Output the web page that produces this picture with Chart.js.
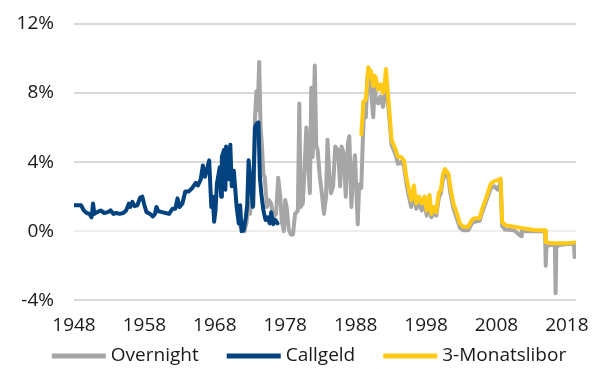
<!DOCTYPE html>
<html>
<head>
<meta charset="utf-8">
<script src="https://cdn.jsdelivr.net/npm/chart.js@4/dist/chart.umd.min.js"></script>
<style>
  html, body { margin: 0; padding: 0; background: #ffffff; }
  canvas { display: block; }
</style>
</head>
<body>
<canvas id="chart" width="603" height="369"></canvas>
<script>
// Swiss money-market rates in percent, dates as decimal years

const tickYears = [1948, 1958, 1968, 1978, 1988, 1998, 2008, 2018];
const tickRates = [-4, 0, 4, 8, 12];

const seriesNames = ['Overnight', 'Callgeld', '3-Monatslibor'];
const seriesColors = ['#a6a6a6', '#01427f', '#ffc916'];

const callgeldYears = [
  1948.0, 1948.5, 1949.0, 1949.4, 1949.8, 1950.2, 1950.5, 1950.7, 1950.9, 1951.3,
  1951.8, 1952.3, 1952.8, 1953.2, 1953.6, 1954.0, 1954.5, 1955.0, 1955.4, 1955.8,
  1956.0, 1956.3, 1956.6, 1957.0, 1957.4, 1957.7, 1958.0, 1958.3, 1958.8, 1959.2,
  1959.5, 1959.7, 1960.0, 1960.5, 1961.0, 1961.5, 1962.0, 1962.4, 1962.7, 1963.0,
  1963.4, 1963.8, 1964.3, 1964.8, 1965.3, 1965.6, 1966.0, 1966.3, 1966.6, 1966.9,
  1967.2, 1967.5, 1967.7, 1967.9, 1968.1, 1968.3, 1968.7, 1968.9, 1969.0, 1969.3,
  1969.5, 1969.6, 1969.9, 1970.2, 1970.4, 1970.7, 1971.1, 1971.4, 1971.6, 1971.8,
  1972.1, 1972.4, 1972.6, 1972.8, 1973.1, 1973.4, 1973.7, 1973.9, 1974.2, 1974.4,
  1974.6, 1974.9, 1975.2, 1975.5, 1975.8, 1976.0, 1976.3, 1976.6, 1976.9
];
const callgeldRates = [
  1.5, 1.5, 1.5, 1.2, 1.05, 1.0, 0.8, 1.6, 1.0, 1.1,
  1.2, 1.05, 1.1, 1.2, 1.0, 1.05, 1.0, 1.05, 1.2, 1.6,
  1.4, 1.7, 1.45, 1.5, 1.95, 2.0, 1.5, 1.1, 1.0, 0.85,
  1.0, 1.4, 1.15, 1.1, 1.05, 1.0, 1.3, 1.3, 1.9, 1.4,
  1.6, 2.3, 2.3, 2.5, 2.8, 2.65, 3.0, 3.8, 3.15, 3.6,
  4.1, 1.4, 2.0, 0.55, 1.2, 2.75, 3.7, 2.0, 4.3, 4.7,
  2.4, 4.9, 3.0, 5.0, 2.6, 3.5, 1.4, 0.45, 1.5, 0.0,
  0.05, 0.8, 1.5, 4.1, 2.75, 1.4, 6.0, 6.2, 6.3, 3.15,
  2.2, 1.2, 0.65, 0.8, 0.45, 1.1, 0.4, 0.65, 0.45
];

const overnightYears = [
  1971.6, 1971.9, 1972.2, 1972.5, 1972.8, 1973.0, 1973.3, 1973.5, 1973.7, 1973.9,
  1974.1, 1974.3, 1974.5, 1974.7, 1974.9, 1975.1, 1975.4, 1975.7, 1976.0, 1976.3,
  1976.7, 1977.0, 1977.3, 1977.5, 1977.8, 1978.0, 1978.2, 1978.5, 1978.8, 1979.1,
  1979.4, 1979.8, 1980.0, 1980.2, 1980.5, 1980.7, 1981.0, 1981.2, 1981.5, 1981.7,
  1981.9, 1982.2, 1982.4, 1982.6, 1982.9, 1983.2, 1983.5, 1983.8, 1984.0, 1984.3,
  1984.5, 1984.8, 1985.1, 1985.5, 1985.8, 1986.0, 1986.3, 1986.6, 1986.9, 1987.1,
  1987.4, 1987.6, 1987.9, 1988.3, 1988.5, 1988.8, 1989.0, 1989.2, 1989.45, 1989.7,
  1990.0, 1990.2, 1990.5, 1990.7, 1990.9, 1991.2, 1991.5, 1991.9, 1992.3, 1992.6,
  1992.9, 1993.1, 1993.7, 1994.0, 1994.4, 1994.86, 1995.2, 1995.56, 1995.9, 1996.27,
  1996.6, 1997.0, 1997.4, 1997.8, 1998.1, 1998.5, 1998.75, 1999.1, 1999.45, 1999.8,
  2000.1, 2000.4, 2000.7, 2001.2, 2001.5, 2001.9, 2002.4, 2002.8, 2003.3, 2004.0,
  2004.5, 2004.9, 2005.6, 2005.9, 2006.6, 2007.2, 2007.7, 2008.2, 2008.6, 2008.8,
  2009.2, 2010.5, 2011.5, 2011.6, 2012.0, 2013.5, 2014.9, 2015.0, 2015.1, 2015.5,
  2016.3, 2016.4, 2016.5, 2017.0, 2018.0, 2019.0, 2019.1, 2019.3
];
const overnightRates = [
  0.3, 0.1, 0.0, 0.5, 1.5, 1.0, 2.4, 1.5, 6.5, 8.1,
  7.0, 9.8, 6.0, 4.9, 3.3, 3.1, 1.4, 1.8, 1.6, 0.8,
  1.0, 3.1, 2.0, 0.6, 0.0, 1.8, 1.4, 0.1, -0.2, -0.2,
  1.0, 1.2, 7.4, 1.4, 1.6, 3.3, 6.0, 4.1, 2.2, 8.3,
  4.3, 9.6, 5.0, 4.7, 3.2, 2.2, 1.0, 2.0, 5.3, 3.0,
  2.2, 2.6, 4.9, 4.7, 2.6, 4.9, 4.5, 2.0, 5.1, 5.5,
  1.4, 3.1, 4.4, 0.4, 2.7, 2.5, 5.0, 7.2, 6.6, 9.0,
  8.8, 8.0, 6.6, 8.4, 7.6, 7.4, 7.8, 7.2, 8.6, 7.4,
  6.0, 5.0, 4.4, 3.9, 4.0, 3.8, 2.8, 2.0, 1.4, 2.3,
  1.3, 1.6, 1.2, 1.7, 0.9, 1.8, 0.8, 1.1, 0.9, 1.9,
  2.2, 3.0, 3.4, 3.0, 2.1, 1.3, 0.7, 0.2, 0.05, 0.05,
  0.45, 0.55, 0.6, 1.0, 1.8, 2.5, 2.6, 2.4, 2.8, 0.3,
  0.1, 0.05, -0.3, 0.05, 0.0, 0.0, 0.0, -2.0, -0.9, -0.8,
  -0.8, -3.6, -0.9, -0.8, -0.75, -0.75, -1.5, -0.7
];

const liborYears = [
  1988.8, 1989.0, 1989.1, 1989.45, 1989.8, 1990.0, 1990.15, 1990.5, 1990.7, 1990.86,
  1991.2, 1991.56, 1991.9, 1992.1, 1992.3, 1992.6, 1992.9, 1993.1, 1993.7, 1994.0,
  1994.4, 1994.86, 1995.2, 1995.56, 1995.9, 1996.27, 1996.6, 1997.0, 1997.4, 1997.8,
  1998.1, 1998.5, 1998.75, 1999.1, 1999.45, 1999.8, 2000.1, 2000.4, 2000.7, 2001.2,
  2001.5, 2001.9, 2002.4, 2002.8, 2003.3, 2004.0, 2004.5, 2004.9, 2005.6, 2005.9,
  2006.6, 2007.2, 2007.7, 2008.2, 2008.6, 2008.8, 2009.2, 2010.5, 2012.0, 2013.5,
  2014.9, 2015.0, 2016.0, 2017.0, 2018.0, 2019.3
];
const liborRates = [
  5.6, 6.8, 7.5, 7.6, 9.5, 9.2, 9.3, 8.4, 9.0, 8.9,
  8.2, 8.5, 8.0, 8.4, 9.4, 7.9, 6.4, 5.3, 4.7, 4.3,
  4.3, 4.1, 3.15, 2.4, 1.8, 2.65, 1.6, 2.0, 1.6, 2.0,
  1.2, 2.1, 1.0, 1.4, 1.1, 2.2, 2.4, 3.3, 3.6, 3.3,
  2.4, 1.6, 1.0, 0.45, 0.25, 0.25, 0.65, 0.75, 0.75, 1.2,
  2.0, 2.75, 2.9, 2.95, 3.05, 0.55, 0.35, 0.25, 0.15, 0.05,
  0.05, -0.65, -0.7, -0.7, -0.7, -0.65
];

const toPoints = (xs, ys) => xs.map((x, i) => ({ x: x, y: ys[i] }));

const FONT = '"Open Sans", "Noto Sans", sans-serif';
const TEXT_COLOR = '#1a1a1a';
const FONT_SIZE = 19;

function lineSet(idx, xs, ys, order) {
  return {
    label: seriesNames[idx],
    data: toPoints(xs, ys),
    borderColor: seriesColors[idx],
    backgroundColor: seriesColors[idx],
    borderWidth: 4,
    pointRadius: 0,
    tension: 0,
    borderJoinStyle: 'round',
    borderCapStyle: 'round',
    order: order
  };
}

// Legend row under the axis: a short thick line followed by the series name
const bottomLegend = {
  id: 'bottomLegend',
  afterDraw(chart) {
    const ctx = chart.ctx;
    const sampleW = 54, sampleGap = 5, itemGap = 28;
    ctx.save();
    ctx.font = FONT_SIZE + 'px ' + FONT;
    ctx.textBaseline = 'middle';
    ctx.textAlign = 'left';
    const items = chart.data.datasets.map(ds => ({
      label: ds.label,
      color: ds.borderColor,
      w: sampleW + sampleGap + ctx.measureText(ds.label).width
    }));
    const total = items.reduce((s, it) => s + it.w, 0) + itemGap * (items.length - 1);
    const area = chart.chartArea;
    let x = (area.left + area.right) / 2 - 16 - total / 2;
    const y = chart.height - 13;
    items.forEach(it => {
      ctx.fillStyle = it.color;
      ctx.fillRect(x, y - 2.5, sampleW, 5);
      ctx.fillStyle = TEXT_COLOR;
      ctx.fillText(it.label, x + sampleW + sampleGap, y);
      x += it.w + itemGap;
    });
    ctx.restore();
  }
};

new Chart(document.getElementById('chart'), {
  type: 'line',
  data: {
    datasets: [
      lineSet(0, overnightYears, overnightRates, 3),
      lineSet(1, callgeldYears, callgeldRates, 2),
      lineSet(2, liborYears, liborRates, 1)
    ]
  },
  options: {
    responsive: false,
    animation: false,
    layout: { padding: { left: 16, right: 22, top: 24, bottom: 18 } },
    scales: {
      x: {
        type: 'linear',
        min: 1948,
        max: 2019.3,
        afterBuildTicks: axis => { axis.ticks = tickYears.map(v => ({ value: v })); },
        grid: { display: false, drawTicks: false },
        border: { display: false },
        ticks: {
          padding: 14,
          color: TEXT_COLOR,
          font: { family: FONT, size: FONT_SIZE },
          maxRotation: 0,
          autoSkip: false,
          callback: v => String(v)
        }
      },
      y: {
        min: -4,
        max: 12,
        afterBuildTicks: axis => { axis.ticks = tickRates.map(v => ({ value: v })); },
        afterFit: axis => { axis.width = 58; axis.paddingTop = 0; },
        border: { display: false },
        grid: {
          drawTicks: false,
          lineWidth: 2,
          color: ctx => (ctx.tick && ctx.tick.value === 0) ? '#efeee8' : '#d9d9d9'
        },
        ticks: {
          padding: 20,
          color: TEXT_COLOR,
          font: { family: FONT, size: FONT_SIZE },
          callback: v => v + '%'
        }
      }
    },
    plugins: {
      tooltip: { enabled: false },
      legend: { display: false }
    }
  },
  plugins: [bottomLegend]
});
</script>
</body>
</html>
